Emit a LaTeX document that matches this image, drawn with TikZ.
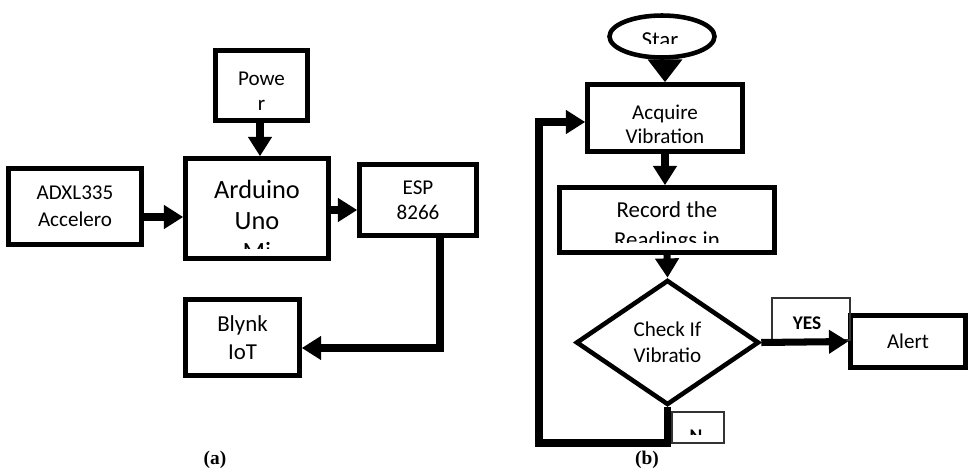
\documentclass[tikz,border=0pt]{standalone}
\usepackage{fontspec}
\setmainfont{Carlito}
\newfontfamily\capfont{Liberation Serif}
\usetikzlibrary{shapes.geometric,arrows.meta}
\tikzset{
    blockbox/.style={
        draw,
        line width=2.6pt,
        align=center,
        inner sep=0pt
    },
    startoval/.style={
        ellipse,
        draw,
        line width=2.6pt,
        inner sep=0pt
    },
    decision/.style={
        diamond,
        draw,
        line width=2.6pt,
        align=center,
        inner sep=0pt
    },
    tagbox/.style={
        draw=black!80,
        line width=0.6pt,
        align=center,
        inner sep=0pt
    },
    cliptext/.style={
        anchor=north,
        align=center,
        inner sep=0pt
    },
    conn/.style={-{Triangle[length=11pt,width=13pt]}, line width=4pt},
    caption/.style={font=\capfont\bfseries\fontsize{11}{13}\selectfont}
}

\begin{document}
\begin{tikzpicture}[x=0.02cm, y=-0.02cm]
\useasboundingbox (0,0) rectangle (968,471);

% (a) block diagram
\node[blockbox, minimum width=1.84cm, minimum height=1.40cm] (power) at (261.5,85.5) {};
\node[align=center, inner sep=0pt, font=\fontsize{12}{14}\selectfont] (powertext) at (261.5,91) {Powe\\r};
\node[blockbox, minimum width=2.86cm, minimum height=2.00cm] (ard) at (257,208.5) {};
\begin{scope}
    \clip (183,156) rectangle (331,248);
    \node[cliptext, font=\fontsize{15}{17.6}\selectfont] (ardtext) at (257,180) {Arduino\\Uno\\Mi};
\end{scope}
\node[blockbox, minimum width=2.66cm, minimum height=1.52cm, font=\fontsize{12}{15.3}\selectfont] (adxl) at (75,206.5) {ADXL335\\Accelero};
\node[blockbox, minimum width=2.34cm, minimum height=1.42cm, font=\fontsize{12}{14.2}\selectfont] (esp) at (418,200) {ESP\\8266};
\node[blockbox, minimum width=2.28cm, minimum height=1.52cm, font=\fontsize{13}{16}\selectfont] (blynk) at (242.5,337.5) {Blynk\\IoT};

\draw[conn] ([xshift=-0.03cm]power.south) -- ([xshift=-0.03cm]power.south |- ard.north);
\draw[conn] ([yshift=-0.21cm]adxl.east) -- ([yshift=-0.21cm]adxl.east -| ard.west);
\draw[conn] ([yshift=-0.03cm]ard.east) -- ([yshift=-0.03cm]ard.east -| esp.west);
\draw[conn] ([xshift=0.44cm]esp.south) |- ([yshift=-0.21cm]blynk.east);

% (b) flow chart
\node[startoval, minimum width=2.10cm, minimum height=0.84cm] (start) at (662,36.5) {};
\begin{scope}
    \clip (600,10) rectangle (720,43);
    \node[cliptext, font=\fontsize{13}{15}\selectfont] (starttext) at (660,32) {Star};
\end{scope}
\node[blockbox, minimum width=3.10cm, minimum height=1.34cm] (acq) at (665,118) {};
\node[align=center, inner sep=0pt, font=\fontsize{12}{13.5}\selectfont] (acqtext) at (665,124) {Acquire\\Vibration};
\node[blockbox, minimum width=4.30cm, minimum height=1.30cm] (rec) at (667,220) {};
\begin{scope}
    \clip (557,185) rectangle (777,242);
    \node[cliptext, font=\fontsize{13}{17}\selectfont] (rectext) at (667,201) {Record the\\Readings in};
\end{scope}
\node[decision, minimum width=3.66cm, minimum height=2.50cm, font=\fontsize{12}{14.7}\selectfont] (chk) at (667.5,342.5) {Check If\\Vibratio};
\node[blockbox, minimum width=2.30cm, minimum height=1.04cm, font=\fontsize{12}{13}\selectfont] (alert) at (908,341.5) {Alert};
\node[tagbox, minimum width=1.56cm, minimum height=0.84cm] (yes) at (811,319) {};
\node[font=\bfseries\fontsize{11}{13}\selectfont, inner sep=0pt] (yestext) at (807,323) {YES};
\node[tagbox, minimum width=1.04cm, minimum height=0.62cm] (no) at (698,427.5) {};
\begin{scope}
    \clip (672,412) rectangle (724,434);
    \node[cliptext, font=\bfseries\fontsize{11}{13}\selectfont] (notext) at (696,430) {N};
\end{scope}

\draw[conn, -{Triangle[length=13pt,width=19pt]}] (acq.north |- start.south) -- (acq.north);
\draw[conn] (acq.south) -- (acq.south |- rec.north);
\draw[conn] (rec.south) -- (chk.north);
\draw[conn] (chk.east) -- (alert.west);
\coordinate (loopcorner) at (539,443);
\draw[conn] (chk.south) |- (loopcorner) |- ([yshift=-0.08cm]acq.west);

% captions
\node[caption] (capa) at (215,460) {(a)};
\node[caption] (capb) at (647,460) {(b)};

\end{tikzpicture}
\end{document}
